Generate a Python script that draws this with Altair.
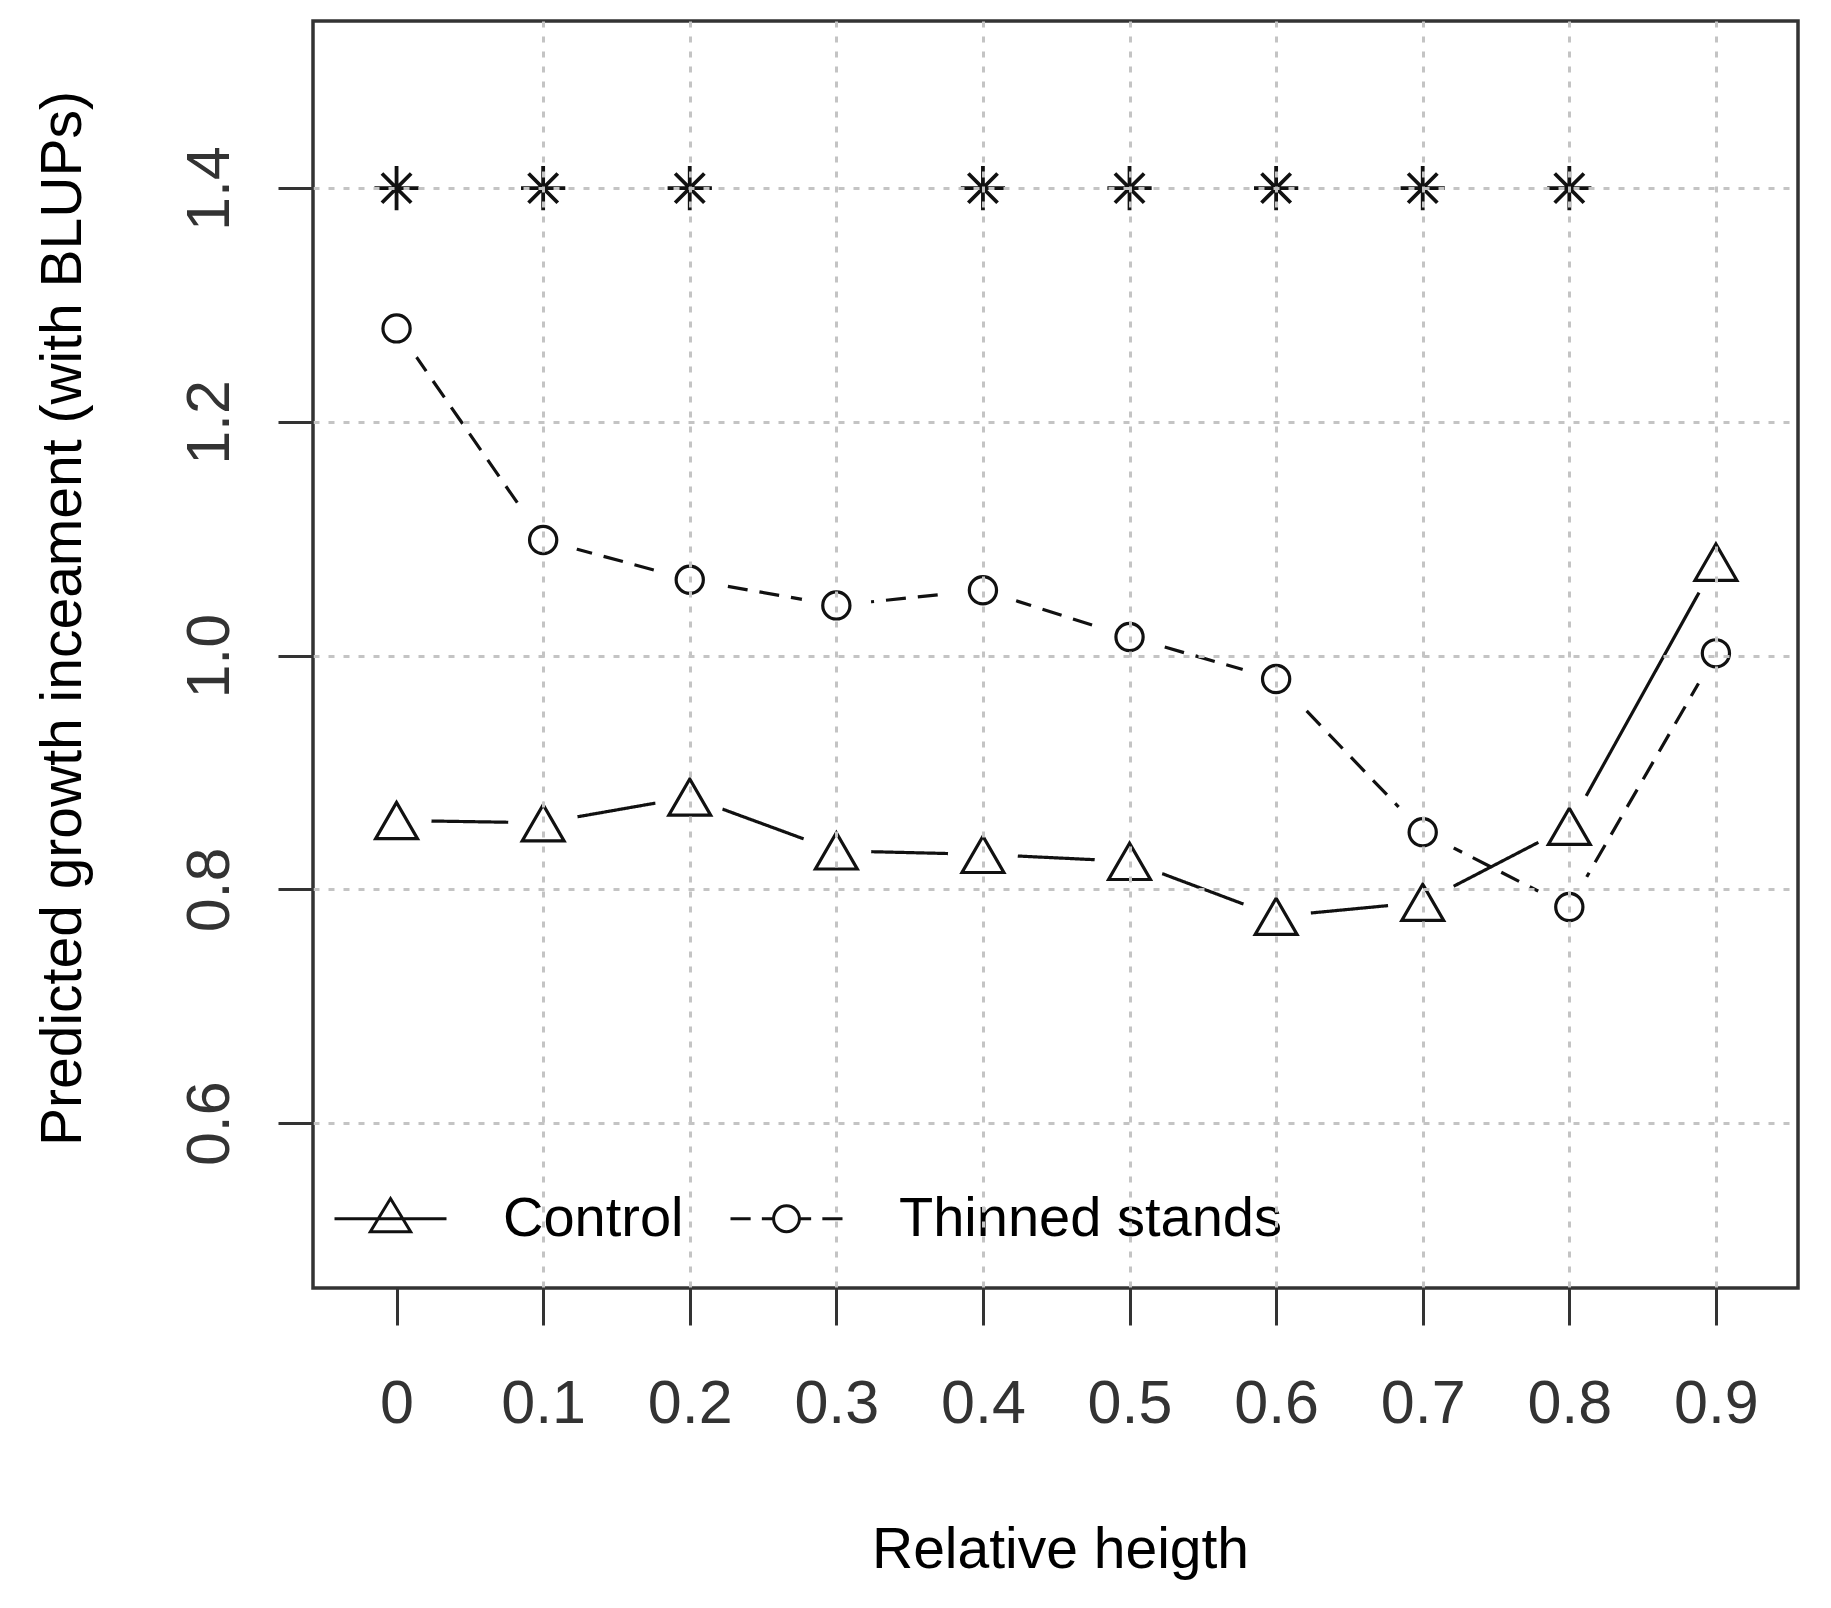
import altair as alt
import pandas as pd

# ---- data ----
rel_height = [0.0, 0.1, 0.2, 0.3, 0.4, 0.5, 0.6, 0.7, 0.8, 0.9]
control = [0.859, 0.857, 0.879, 0.833, 0.830, 0.824, 0.777, 0.789, 0.854, 1.080]
thinned = [1.280, 1.099, 1.065, 1.043, 1.056, 1.016, 0.980, 0.849, 0.785, 1.002]
star_x = [0.0, 0.1, 0.2, 0.4, 0.5, 0.6, 0.7, 0.8]
star_y = [1.4, 1.4, 1.4, 1.4, 1.4, 1.4, 1.4, 1.4]
series_names = ["Control", "Thinned stands"]
x_ticks = [0.0, 0.1, 0.2, 0.3, 0.4, 0.5, 0.6, 0.7, 0.8, 0.9]
y_ticks = [0.6, 0.8, 1.0, 1.2, 1.4]

FONT = "Liberation Sans"

rows = []
for name, vals in zip(series_names, [control, thinned]):
    for xv, yv in zip(rel_height, vals):
        rows.append({"series": name, "x": xv, "y": yv})
df = pd.DataFrame(rows)
stars = pd.DataFrame({"x": star_x, "y": star_y})

x_axis = alt.Axis(
    values=x_ticks,
    labelExpr="datum.value == 0 ? '0' : format(datum.value, '.1f')",
    labelFont=FONT, labelFontSize=61, labelColor="#333333",
    labelBaseline="alphabetic", labelPadding=97,
    labelFlush=False, labelOverlap=False,
    tickSize=37, tickWidth=3, tickColor="#333333",
    domain=False,
    grid=True, gridColor="#c4c4c4", gridDash=[6, 9], gridWidth=3,
    gridOpacity={"condition": {"test": "datum.value == 0", "value": 0}, "value": 1},
    title="Relative heigth", titleFont=FONT, titleFontSize=57,
    titleFontWeight="normal", titleColor="black",
    titleX=747, titleY=279, titleBaseline="alphabetic", titleAlign="center",
    zindex=1,
)
y_axis = alt.Axis(
    values=y_ticks, format=".1f",
    labelFont=FONT, labelFontSize=61, labelColor="#333333",
    labelAngle=270, labelAlign="center", labelBaseline="alphabetic",
    labelPadding=50, labelFlush=False, labelOverlap=False,
    tickSize=35, tickWidth=3, tickColor="#333333",
    domain=False,
    grid=True, gridColor="#c4c4c4", gridDash=[6, 9], gridWidth=3,
    title="Predicted growth inceament (with BLUPs)", titleFont=FONT,
    titleFontSize=57, titleFontWeight="normal", titleColor="black",
    titleAngle=270, titleX=-233, titleY=597,
    titleBaseline="alphabetic", titleAlign="center",
    zindex=1,
)

X = alt.X("x:Q", scale=alt.Scale(domain=[-0.057, 0.956], nice=False, zero=False), axis=x_axis)
Y = alt.Y("y:Q", scale=alt.Scale(domain=[0.459, 1.543], nice=False, zero=False), axis=y_axis)

base = alt.Chart(df)

lines = base.mark_line(color="#111111", strokeWidth=3.2).encode(
    x=X, y=Y, detail="series:N",
    strokeDash=alt.StrokeDash("series:N",
                              scale=alt.Scale(domain=series_names, range=[[1, 0], [20, 12]]),
                              legend=None),
)

halos = base.mark_point(filled=True, color="white", shape="circle", size=4900, opacity=1).encode(
    x=X, y=Y,
)

points = base.mark_point(filled=False, color="#111111", strokeWidth=3.2, opacity=1).encode(
    x=X, y=Y,
    shape=alt.Shape("series:N",
                    scale=alt.Scale(domain=series_names, range=["triangle-up", "circle"]),
                    legend=None),
    size=alt.Size("series:N",
                  scale=alt.Scale(domain=series_names, range=[1750, 740]),
                  legend=None),
)

star_path = "M-1,0L1,0M0,-1L0,1M-0.66,-0.66L0.66,0.66M-0.66,0.66L0.66,-0.66"
star_layer = alt.Chart(stars).mark_point(
    shape=star_path, size=1960, filled=False, color="#111111", strokeWidth=3.8, opacity=1
).encode(x=X, y=Y)

ctrl_sym = "M-1,0L1,0M0,-0.36L0.36,0.23L-0.36,0.23Z"
thin_sym = ("M-1,0L-0.64,0M-0.44,0L-0.23,0M0.23,0L0.44,0M0.64,0L1,0"
            "M0.23,0A0.23,0.23 0 1,1 -0.23,0A0.23,0.23 0 1,1 0.23,0Z")

legend_layer = base.transform_filter("false").mark_point(
    filled=False, color="#111111", strokeWidth=3, opacity=1
).encode(
    x=X, y=Y,
    shape=alt.Shape("series:N",
                    scale=alt.Scale(domain=series_names, range=[ctrl_sym, thin_sym]),
                    legend=alt.Legend(
                        title=None, orient="none", legendX=20, legendY=1140,
                        direction="horizontal", columns=2, padding=0,
                        symbolSize=12544, symbolStrokeWidth=3,
                        symbolStrokeColor="#111111", symbolOpacity=1,
                        labelFont=FONT, labelFontSize=56, labelColor="black",
                        labelLimit=2000, labelOffset=55, columnPadding=40,
                    )),
)

chart = alt.layer(lines, halos, points, star_layer, legend_layer).resolve_scale(
    shape="independent", size="independent", strokeDash="independent"
).properties(
    width=1485, height=1267,
    autosize=alt.AutoSizeParams(type="none"),
    padding={"left": 305, "top": 13, "right": 20, "bottom": 300},
    background="white",
).configure_view(stroke="#333333", strokeWidth=3.5)

chart.save("out.html", embed_options={"renderer": "svg", "actions": False})
